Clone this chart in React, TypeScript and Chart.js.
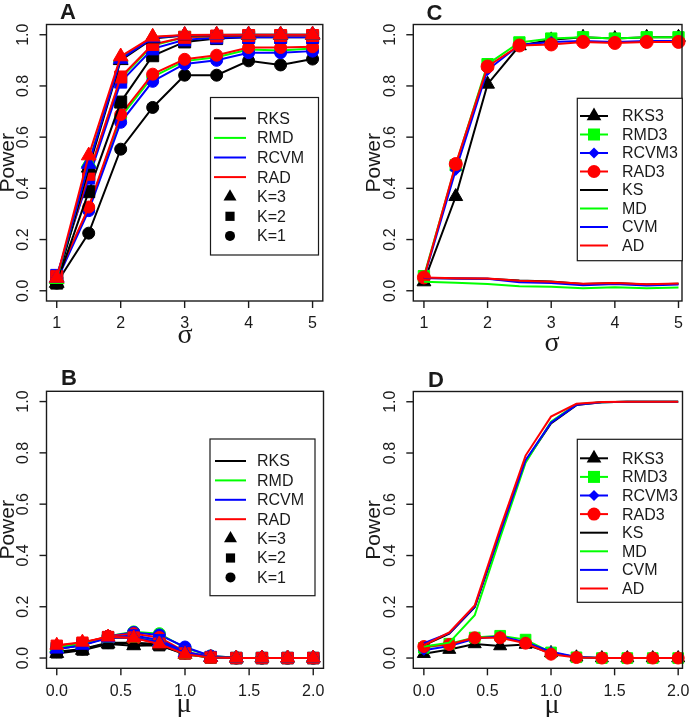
import { useEffect, useRef } from "react";
import { Chart, registerables } from "chart.js";

Chart.register(...registerables);

// ---- shared axes ----
const sigma = [1, 1.5, 2, 2.5, 3, 3.5, 4, 4.5, 5];
const mu = [0, 0.2, 0.4, 0.6, 0.8, 1.0, 1.2, 1.4, 1.6, 1.8, 2.0];
const sigmaTicks = [1, 2, 3, 4, 5];
const sigmaTickLabels = ["1", "2", "3", "4", "5"];
const muTicks = [0, 0.5, 1, 1.5, 2];
const muTickLabels = ["0.0", "0.5", "1.0", "1.5", "2.0"];
const powerTicks = [0, 0.2, 0.4, 0.6, 0.8, 1.0];
const powerTickLabels = ["0.0", "0.2", "0.4", "0.6", "0.8", "1.0"];

// ---- panel A: power vs sigma, K = 1, 2, 3 ----
const aRKS1 = [0.03, 0.225, 0.553, 0.716, 0.842, 0.842, 0.898, 0.882, 0.905];
const aRMD1 = [0.045, 0.322, 0.678, 0.836, 0.897, 0.912, 0.942, 0.938, 0.946];
const aRCVM1 = [0.04, 0.313, 0.658, 0.818, 0.886, 0.9, 0.93, 0.93, 0.936];
const aRAD1 = [0.05, 0.327, 0.688, 0.846, 0.904, 0.92, 0.95, 0.95, 0.953];
const aRKS2 = [0.03, 0.387, 0.737, 0.918, 0.972, 0.985, 0.99, 0.99, 0.99];
const aRMD2 = [0.05, 0.45, 0.83, 0.958, 0.99, 0.993, 0.995, 0.995, 0.995];
const aRCVM2 = [0.06, 0.44, 0.815, 0.945, 0.98, 0.988, 0.99, 0.99, 0.99];
const aRAD2 = [0.055, 0.455, 0.835, 0.962, 0.99, 0.995, 0.997, 0.997, 0.997];
const aRKS3 = [0.03, 0.48, 0.9, 0.985, 0.997, 0.998, 0.998, 0.999, 0.999];
const aRMD3 = [0.045, 0.5, 0.91, 0.99, 0.998, 0.999, 1, 1, 1];
const aRCVM3 = [0.05, 0.495, 0.905, 0.988, 0.998, 0.999, 1, 1, 1];
const aRAD3 = [0.05, 0.528, 0.915, 0.992, 0.999, 1, 1, 1, 1];

// ---- panel B: power vs mu, K = 1, 2, 3 ----
const bRKS1 = [0.025, 0.035, 0.06, 0.06, 0.055, 0.02, 0.003, 0, 0, 0, 0];
const bRMD1 = [0.035, 0.05, 0.085, 0.102, 0.095, 0.04, 0.008, 0.001, 0, 0, 0];
const bRCVM1 = [0.035, 0.05, 0.085, 0.1, 0.09, 0.043, 0.008, 0.001, 0, 0, 0];
const bRAD1 = [0.045, 0.058, 0.085, 0.095, 0.08, 0.025, 0.004, 0, 0, 0, 0];
const bRKS2 = [0.022, 0.033, 0.058, 0.058, 0.05, 0.018, 0.002, 0, 0, 0, 0];
const bRMD2 = [0.04, 0.055, 0.08, 0.085, 0.065, 0.02, 0.003, 0, 0, 0, 0];
const bRCVM2 = [0.038, 0.052, 0.08, 0.088, 0.07, 0.025, 0.004, 0, 0, 0, 0];
const bRAD2 = [0.048, 0.06, 0.082, 0.08, 0.056, 0.018, 0.002, 0, 0, 0, 0];
const bRKS3 = [0.018, 0.03, 0.055, 0.048, 0.05, 0.015, 0.002, 0, 0, 0, 0];
const bRMD3 = [0.04, 0.055, 0.078, 0.078, 0.06, 0.015, 0.002, 0, 0, 0, 0];
const bRCVM3 = [0.035, 0.05, 0.078, 0.08, 0.062, 0.02, 0.003, 0, 0, 0, 0];
const bRAD3 = [0.05, 0.062, 0.082, 0.078, 0.055, 0.015, 0.002, 0, 0, 0, 0];

// ---- panel C: K = 3 tests vs classical tests, sigma ----
const cRKS3 = [0.035, 0.368, 0.807, 0.957, 0.98, 0.99, 0.985, 0.99, 0.99];
const cRMD3 = [0.057, 0.49, 0.885, 0.97, 0.985, 0.99, 0.985, 0.99, 0.99];
const cRCVM3 = [0.05, 0.472, 0.862, 0.96, 0.972, 0.976, 0.972, 0.976, 0.976];
const cRAD3 = [0.052, 0.495, 0.876, 0.958, 0.962, 0.972, 0.968, 0.972, 0.972];
const cKS = [0.05, 0.048, 0.047, 0.04, 0.036, 0.026, 0.03, 0.024, 0.027];
const cMD = [0.035, 0.031, 0.026, 0.018, 0.016, 0.01, 0.014, 0.01, 0.013];
const cCVM = [0.05, 0.048, 0.047, 0.033, 0.03, 0.022, 0.026, 0.021, 0.024];
const cAD = [0.052, 0.049, 0.048, 0.039, 0.035, 0.027, 0.03, 0.025, 0.028];

// ---- panel D: K = 3 tests vs classical tests, mu ----
const dRKS3 = [0.017, 0.033, 0.055, 0.047, 0.053, 0.02, 0.003, 0, 0, 0, 0];
const dRMD3 = [0.04, 0.056, 0.08, 0.087, 0.072, 0.022, 0.003, 0, 0, 0, 0];
const dRCVM3 = [0.03, 0.047, 0.075, 0.085, 0.062, 0.025, 0.004, 0, 0, 0, 0];
const dRAD3 = [0.045, 0.053, 0.079, 0.079, 0.058, 0.015, 0.002, 0, 0, 0, 0];
const dKS = [0.05, 0.095, 0.198, 0.485, 0.768, 0.915, 0.987, 0.998, 1, 1, 1];
const dMD = [0.045, 0.06, 0.167, 0.47, 0.762, 0.922, 0.99, 0.998, 1, 1, 1];
const dCVM = [0.058, 0.097, 0.2, 0.49, 0.772, 0.918, 0.988, 0.998, 1, 1, 1];
const dAD = [0.05, 0.1, 0.205, 0.505, 0.79, 0.942, 0.992, 0.999, 1, 1, 1];

// ---- styling ----
const BLACK = "#000000";
const GREEN = "#00ff00";
const BLUE = "#0000ff";
const RED = "#ff0000";
const INK = "#1a1a1a";
const SANS = '"Liberation Sans", Arial, Helvetica, sans-serif';
const SERIF = '"Liberation Serif", "Times New Roman", serif';

type Shape = "triangle" | "rect" | "circle" | "rectRot" | null;

interface Series {
  values: number[];
  color: string;
  shape: Shape;
  radius: number;
}

interface LegendItem {
  label: string;
  color: string;
  line: boolean;
  shape: Shape;
  radius: number;
}

interface PanelSpec {
  letter: string;
  left: number;
  top: number;
  width: number;
  height: number;
  pad: { left: number; top: number; right: number; bottom: number };
  xs: number[];
  xMin: number;
  xMax: number;
  xTicks: number[];
  xTickLabels: string[];
  xTitle: string;
  xTitleY: number;
  xTitleX: number;
  series: Series[];
  legend: LegendItem[];
  legendBox: { x: number; y: number; w: number; h: number };
  legendRow0: number;
  legendStep: number;
  legendLine: [number, number];
  legendText: number;
  letterPos: [number, number];
  powerX: number;
}

function drawShape(ctx: CanvasRenderingContext2D, shape: Shape, x: number, y: number, r: number, color: string) {
  if (!shape) return;
  ctx.fillStyle = color;
  ctx.beginPath();
  if (shape === "circle") {
    ctx.arc(x, y, r, 0, Math.PI * 2);
  } else if (shape === "triangle") {
    ctx.moveTo(x, y - r);
    ctx.lineTo(x + r * 0.866, y + r * 0.5);
    ctx.lineTo(x - r * 0.866, y + r * 0.5);
    ctx.closePath();
  } else if (shape === "rect") {
    const s = r * Math.SQRT1_2;
    ctx.rect(x - s, y - s, 2 * s, 2 * s);
  } else {
    ctx.moveTo(x, y - r);
    ctx.lineTo(x + r, y);
    ctx.lineTo(x, y + r);
    ctx.lineTo(x - r, y);
    ctx.closePath();
  }
  ctx.fill();
}

function framePlugin(spec: PanelSpec) {
  return {
    id: "frame" + spec.letter,
    afterDraw(chart: any) {
      const ctx: CanvasRenderingContext2D = chart.ctx;
      const { left, right, top, bottom } = chart.chartArea;
      const xs = chart.scales.x;
      const ys = chart.scales.y;
      ctx.save();

      // plot box
      ctx.strokeStyle = INK;
      ctx.lineWidth = 1.4;
      ctx.strokeRect(left, top, right - left, bottom - top);

      // x axis ticks and labels
      ctx.fillStyle = INK;
      ctx.font = `16px ${SANS}`;
      ctx.textAlign = "center";
      ctx.textBaseline = "middle";
      spec.xTicks.forEach((v, i) => {
        const px = xs.getPixelForValue(v);
        ctx.beginPath();
        ctx.moveTo(px, bottom);
        ctx.lineTo(px, bottom + 7);
        ctx.stroke();
        ctx.fillText(spec.xTickLabels[i], px, bottom + 23);
      });

      // y axis ticks and rotated labels
      powerTicks.forEach((v, i) => {
        const py = ys.getPixelForValue(v);
        ctx.beginPath();
        ctx.moveTo(left - 7, py);
        ctx.lineTo(left, py);
        ctx.stroke();
        ctx.save();
        ctx.translate(left - 22.5, py);
        ctx.rotate(-Math.PI / 2);
        ctx.fillText(powerTickLabels[i], 0, 0);
        ctx.restore();
      });

      // axis titles
      ctx.save();
      ctx.font = `21px ${SANS}`;
      ctx.translate(spec.powerX, (top + bottom) / 2);
      ctx.rotate(-Math.PI / 2);
      ctx.fillText("Power", 0, 0);
      ctx.restore();

      ctx.font = `28px ${SERIF}`;
      ctx.fillText(spec.xTitle, spec.xTitleX, spec.xTitleY);

      // panel letter
      ctx.font = `bold 22px ${SANS}`;
      ctx.textAlign = "left";
      ctx.textBaseline = "alphabetic";
      ctx.fillText(spec.letter, spec.letterPos[0], spec.letterPos[1]);

      // legend
      const lb = spec.legendBox;
      ctx.fillStyle = "#ffffff";
      ctx.fillRect(lb.x, lb.y, lb.w, lb.h);
      ctx.strokeStyle = INK;
      ctx.lineWidth = 1.2;
      ctx.strokeRect(lb.x, lb.y, lb.w, lb.h);
      ctx.font = `16px ${SANS}`;
      ctx.textBaseline = "middle";
      spec.legend.forEach((item, i) => {
        const y = spec.legendRow0 + i * spec.legendStep;
        const [x0, x1] = spec.legendLine;
        if (item.line) {
          ctx.strokeStyle = item.color;
          ctx.lineWidth = 2;
          ctx.beginPath();
          ctx.moveTo(x0, y);
          ctx.lineTo(x1, y);
          ctx.stroke();
        }
        drawShape(ctx, item.shape, (x0 + x1) / 2, y, item.radius, item.color);
        ctx.fillStyle = INK;
        ctx.fillText(item.label, spec.legendText, y + 1);
      });

      ctx.restore();
    },
  };
}

function buildConfig(spec: PanelSpec): any {
  const n = spec.series.length;
  const datasets = spec.series.map((s, i) => ({
    data: spec.xs.map((x, j) => ({ x, y: s.values[j] })),
    borderColor: s.color,
    backgroundColor: s.color,
    borderWidth: 2,
    pointStyle: s.shape || "circle",
    pointRadius: s.shape ? s.radius : 0,
    pointBorderWidth: 1,
    pointBorderColor: s.color,
    pointBackgroundColor: s.color,
    tension: 0,
    clip: false,
    order: n - i,
  }));
  return {
    type: "line",
    data: { datasets },
    options: {
      animation: false,
      responsive: false,
      maintainAspectRatio: false,
      events: [],
      layout: { padding: spec.pad },
      plugins: { legend: { display: false }, tooltip: { enabled: false }, title: { display: false } },
      scales: {
        x: { type: "linear", min: spec.xMin, max: spec.xMax, display: false },
        y: { type: "linear", min: -0.04, max: 1.04, display: false },
      },
    },
    plugins: [framePlugin(spec)],
  };
}

// series builders for the K-comparison panels
function kSeries(groups: number[][][], radii: number[]): Series[] {
  const colors = [BLACK, GREEN, BLUE, RED];
  const shapes: Shape[] = ["circle", "rect", "triangle"];
  const out: Series[] = [];
  groups.forEach((group, k) => {
    group.forEach((values, m) => {
      out.push({ values, color: colors[m], shape: shapes[k], radius: radii[k] });
    });
  });
  return out;
}

function kLegend(): LegendItem[] {
  return [
    { label: "RKS", color: BLACK, line: true, shape: null, radius: 0 },
    { label: "RMD", color: GREEN, line: true, shape: null, radius: 0 },
    { label: "RCVM", color: BLUE, line: true, shape: null, radius: 0 },
    { label: "RAD", color: RED, line: true, shape: null, radius: 0 },
    { label: "K=3", color: BLACK, line: false, shape: "triangle", radius: 7.5 },
    { label: "K=2", color: BLACK, line: false, shape: "rect", radius: 6.5 },
    { label: "K=1", color: BLACK, line: false, shape: "circle", radius: 5 },
  ];
}

function mixSeries(r3: number[][], classic: number[][], radii: number[]): Series[] {
  const colors = [BLACK, GREEN, BLUE, RED];
  const shapes: Shape[] = ["triangle", "rect", "rectRot", "circle"];
  const marked = r3.map((values, m) => ({ values, color: colors[m], shape: shapes[m], radius: radii[m] }));
  const plain = classic.map((values, m) => ({ values, color: colors[m], shape: null as Shape, radius: 0 }));
  return [...marked, ...plain];
}

function mixLegend(): LegendItem[] {
  return [
    { label: "RKS3", color: BLACK, line: true, shape: "triangle", radius: 8.5 },
    { label: "RMD3", color: GREEN, line: true, shape: "rect", radius: 8.5 },
    { label: "RCVM3", color: BLUE, line: true, shape: "rectRot", radius: 5.5 },
    { label: "RAD3", color: RED, line: true, shape: "circle", radius: 6.5 },
    { label: "KS", color: BLACK, line: true, shape: null, radius: 0 },
    { label: "MD", color: GREEN, line: true, shape: null, radius: 0 },
    { label: "CVM", color: BLUE, line: true, shape: null, radius: 0 },
    { label: "AD", color: RED, line: true, shape: null, radius: 0 },
  ];
}

const panels: PanelSpec[] = [
  {
    letter: "A",
    left: 0,
    top: 0,
    width: 345,
    height: 355,
    pad: { left: 46.5, top: 24.5, right: 22.2, bottom: 54 },
    xs: sigma,
    xMin: 0.84,
    xMax: 5.16,
    xTicks: sigmaTicks,
    xTickLabels: sigmaTickLabels,
    xTitle: "σ",
    xTitleX: 185,
    xTitleY: 336,
    series: kSeries(
      [
        [aRKS1, aRMD1, aRCVM1, aRAD1],
        [aRKS2, aRMD2, aRCVM2, aRAD2],
        [aRKS3, aRMD3, aRCVM3, aRAD3],
      ],
      [6, 8.5, 8.5]
    ),
    legend: kLegend(),
    legendBox: { x: 210.5, y: 97.5, w: 108, h: 157.5 },
    legendRow0: 118.3,
    legendStep: 19.6,
    legendLine: [214, 246],
    legendText: 257,
    letterPos: [60, 19],
    powerX: 8,
  },
  {
    letter: "B",
    left: 0,
    top: 355,
    width: 345,
    height: 362,
    pad: { left: 46.5, top: 36.3, right: 21.5, bottom: 48.7 },
    xs: mu,
    xMin: -0.08,
    xMax: 2.08,
    xTicks: muTicks,
    xTickLabels: muTickLabels,
    xTitle: "μ",
    xTitleX: 184,
    xTitleY: 350,
    series: kSeries(
      [
        [bRKS1, bRMD1, bRCVM1, bRAD1],
        [bRKS2, bRMD2, bRCVM2, bRAD2],
        [bRKS3, bRMD3, bRCVM3, bRAD3],
      ],
      [6, 8, 8]
    ),
    legend: kLegend(),
    legendBox: { x: 210, y: 84, w: 105, h: 156.7 },
    legendRow0: 106,
    legendStep: 19.4,
    legendLine: [215, 246],
    legendText: 257,
    letterPos: [61, 30],
    powerX: 8,
  },
  {
    letter: "C",
    left: 345,
    top: 0,
    width: 346,
    height: 355,
    pad: { left: 68.3, top: 24.5, right: 7.5, bottom: 54 },
    xs: sigma,
    xMin: 0.833,
    xMax: 5.055,
    xTicks: sigmaTicks,
    xTickLabels: sigmaTickLabels,
    xTitle: "σ",
    xTitleX: 207,
    xTitleY: 344,
    series: mixSeries([cRKS3, cRMD3, cRCVM3, cRAD3], [cKS, cMD, cCVM, cAD], [8, 8, 5.5, 6.5]),
    legend: mixLegend(),
    legendBox: { x: 232.3, y: 98.3, w: 105, h: 162.4 },
    legendRow0: 116,
    legendStep: 18.5,
    legendLine: [235, 263],
    legendText: 277,
    letterPos: [81.5, 19.5],
    powerX: 29,
  },
  {
    letter: "D",
    left: 345,
    top: 355,
    width: 346,
    height: 362,
    pad: { left: 68.3, top: 36.5, right: 6.7, bottom: 48.7 },
    xs: mu,
    xMin: -0.083,
    xMax: 2.034,
    xTicks: muTicks,
    xTickLabels: muTickLabels,
    xTitle: "μ",
    xTitleX: 207,
    xTitleY: 351,
    series: mixSeries([dRKS3, dRMD3, dRCVM3, dRAD3], [dKS, dMD, dCVM, dAD], [7.5, 7.5, 5, 6]),
    legend: mixLegend(),
    legendBox: { x: 232.3, y: 84.3, w: 105, h: 163 },
    legendRow0: 103.3,
    legendStep: 18.6,
    legendLine: [235, 263],
    legendText: 277,
    letterPos: [83, 31.5],
    powerX: 29,
  },
];

function Panel({ spec }: { spec: PanelSpec }) {
  const ref = useRef<HTMLCanvasElement | null>(null);
  useEffect(() => {
    if (!ref.current) return;
    const chart = new Chart(ref.current, buildConfig(spec));
    return () => chart.destroy();
  }, [spec]);
  return (
    <canvas
      ref={ref}
      width={spec.width}
      height={spec.height}
      style={{ position: "absolute", left: spec.left, top: spec.top, width: spec.width, height: spec.height }}
    />
  );
}

export default function App() {
  return (
    <div style={{ position: "absolute", left: 0, top: 0, width: 691, height: 717, background: "#ffffff" }}>
      {panels.map((p) => (
        <Panel key={p.letter} spec={p} />
      ))}
    </div>
  );
}
